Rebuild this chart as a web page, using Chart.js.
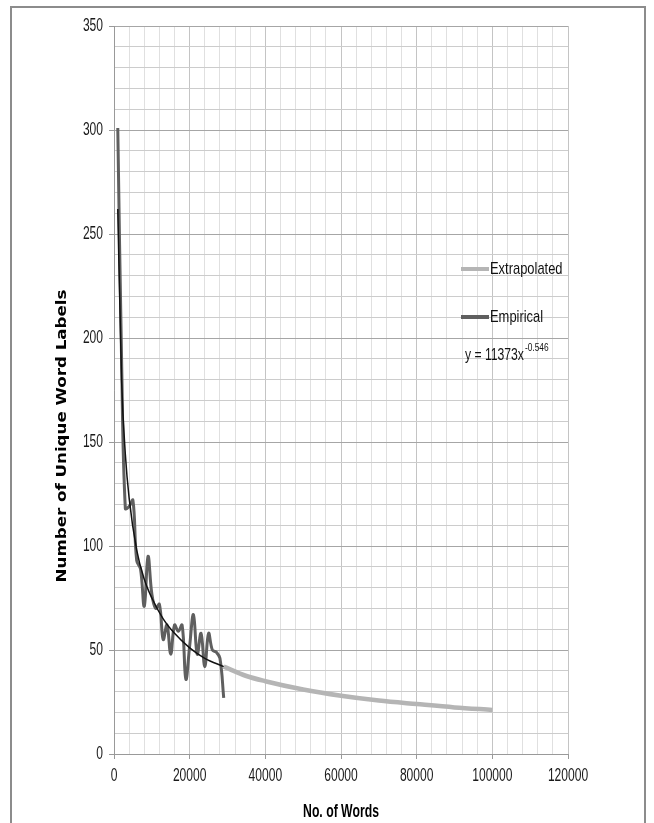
<!DOCTYPE html>
<html>
<head>
<meta charset="utf-8">
<script src="https://cdn.jsdelivr.net/npm/chart.js@4.4.1/dist/chart.umd.min.js"></script>
<style>
  body { margin: 0; background: #fff; }
  #wrap { position: relative; width: 654px; height: 823px; overflow: hidden; }
  #frame { position: absolute; left: 10px; top: 6px; width: 636px; height: 840px; border: 2px solid #8c8c8c; box-sizing: border-box; pointer-events: none; }
  #chartCanvas { position: absolute; left: 0; top: 0; }
</style>
</head>
<body>
<div id="wrap">
  <canvas id="chartCanvas" width="654" height="823"></canvas>
  <div id="frame"></div>
</div>
<script>
// Empirical counts
const empiricalWords = [1000, 2000, 3000, 4000, 5000, 6000, 7000, 8000, 9000, 10000,
  11000, 12000, 13000, 14000, 15000, 16000, 17000, 18000, 19000, 20000,
  21000, 22000, 23000, 24000, 25000, 26000, 27000, 28000, 29000];
const empiricalLabels = [301, 190, 118, 119, 122, 93, 89, 71, 95, 77,
  70, 72, 55, 62, 48, 62, 59, 62, 36, 52,
  67, 48, 58, 42, 58, 50, 49, 46, 27];

// Power trendline over the empirical range
const trendWords = [1000, 2000, 3000, 4000, 6000, 8000, 10000, 13000, 16000, 20000, 24000, 29000];
const trendLabels = [262, 180, 144, 123, 98, 84, 75, 65, 58, 51, 46, 42];

// Extrapolated part
const extrapWords = [29000, 35000, 40000, 50000, 60000, 70000, 80000, 90000, 100000];
const extrapLabels = [42, 37.5, 35, 31, 28, 25.7, 24, 22.4, 21.2];

const xTickLabels = [0, 20000, 40000, 60000, 80000, 100000, 120000];
const yTickLabels = [0, 50, 100, 150, 200, 250, 300, 350];

const toPoints = (xs, ys) => xs.map((x, i) => ({ x: x, y: ys[i] }));

const squeezed = '"Liberation Sans", Arial, sans-serif';

// draws text squeezed horizontally, to look like the narrow font of the original
function narrowText(ctx, text, x, y, sx, align) {
    ctx.save();
    ctx.translate(x, y);
    ctx.scale(sx, 1);
    ctx.textAlign = align || 'left';
    ctx.fillText(text, 0, 0);
    const w = ctx.measureText(text).width * sx;
    ctx.restore();
    return w;
}

// tick labels, axis titles, legend and equation
const overlayPlugin = {
    id: 'overlay',
    afterDraw(chart) {
        const ctx = chart.ctx;
        const area = chart.chartArea;
        const xs = chart.scales.x;
        const ys = chart.scales.y;
        ctx.save();
        ctx.fillStyle = '#1a1a1a';
        ctx.textBaseline = 'middle';

        // tick labels, placed by the scales
        ctx.font = '18px ' + squeezed;
        yTickLabels.forEach(v => {
            narrowText(ctx, String(v), area.left - 11, ys.getPixelForValue(v), 0.67, 'right');
        });
        xTickLabels.forEach(v => {
            narrowText(ctx, String(v), xs.getPixelForValue(v), area.bottom + 22, 0.67, 'center');
        });

        // y axis title
        ctx.fillStyle = '#000';
        ctx.save();
        ctx.translate(62, 436);
        ctx.rotate(-Math.PI / 2);
        ctx.scale(1.19, 1);
        ctx.font = 'bold 14px "DejaVu Sans", sans-serif';
        ctx.textAlign = 'center';
        ctx.fillText('Number of Unique Word Labels', 0, 0);
        ctx.restore();

        // x axis title
        ctx.font = 'bold 18px ' + squeezed;
        narrowText(ctx, 'No. of Words', (area.left + area.right) / 2, 812, 0.68, 'center');

        // legend
        const lx = area.right - 107;
        const items = [
            { text: 'Extrapolated', color: '#b5b5b5', y: 269 },
            { text: 'Empirical', color: '#5f5f5f', y: 317 }
        ];
        ctx.font = '17px ' + squeezed;
        ctx.fillStyle = '#111';
        items.forEach(it => {
            ctx.strokeStyle = it.color;
            ctx.lineWidth = 4;
            ctx.beginPath();
            ctx.moveTo(lx, it.y);
            ctx.lineTo(lx + 28, it.y);
            ctx.stroke();
            narrowText(ctx, it.text, lx + 29, it.y, 0.76);
        });

        // trendline equation
        ctx.font = '16px ' + squeezed;
        const w = narrowText(ctx, 'y = 11373x', lx + 4, 356, 0.76);
        ctx.font = '11px ' + squeezed;
        narrowText(ctx, '-0.546', lx + 5 + w, 348, 0.76);
        ctx.restore();
    }
};

const ctx = document.getElementById('chartCanvas').getContext('2d');

const wordChart = new Chart(ctx, {
    type: 'line',
    data: {
        datasets: [
            {
                label: 'Trendline',
                data: toPoints(trendWords, trendLabels),
                borderColor: '#111',
                borderWidth: 1.5,
                pointRadius: 0,
                cubicInterpolationMode: 'monotone',
                order: 0
            },
            {
                label: 'Empirical',
                data: toPoints(empiricalWords, empiricalLabels),
                borderColor: '#5f5f5f',
                borderWidth: 3,
                pointRadius: 0,
                tension: 0.4,
                order: 1
            },
            {
                label: 'Extrapolated',
                data: toPoints(extrapWords, extrapLabels),
                borderColor: '#b5b5b5',
                borderWidth: 4.5,
                pointRadius: 0,
                cubicInterpolationMode: 'monotone',
                order: 2
            }
        ]
    },
    options: {
        responsive: false,
        animation: false,
        layout: { padding: { left: 0, right: 86, top: 26, bottom: 0 } },
        plugins: {
            legend: { display: false },
            tooltip: { enabled: false }
        },
        scales: {
            x: {
                type: 'linear',
                min: 0,
                max: 120000,
                afterFit: scale => { scale.height = 69; },
                border: { color: '#999', width: 1 },
                grid: {
                    color: c => c.tick.value % 20000 === 0 ? '#c4c4c4' : '#e0e0e0',
                    tickColor: c => c.tick.value % 20000 === 0 ? '#999' : 'rgba(0,0,0,0)',
                    tickLength: 5
                },
                ticks: {
                    stepSize: 4000,
                    autoSkip: false,
                    maxRotation: 0,
                    callback: () => ''
                }
            },
            y: {
                min: 0,
                max: 350,
                afterFit: scale => { scale.width = 114; },
                border: { color: '#999', width: 1 },
                grid: {
                    color: c => c.tick.value % 50 === 0 ? '#a6a6a6' : '#cccccc',
                    tickColor: c => c.tick.value % 50 === 0 ? '#999' : 'rgba(0,0,0,0)',
                    tickLength: 5
                },
                ticks: {
                    stepSize: 10,
                    autoSkip: false,
                    callback: () => ''
                }
            }
        }
    },
    plugins: [overlayPlugin]
});
</script>
</body>
</html>
